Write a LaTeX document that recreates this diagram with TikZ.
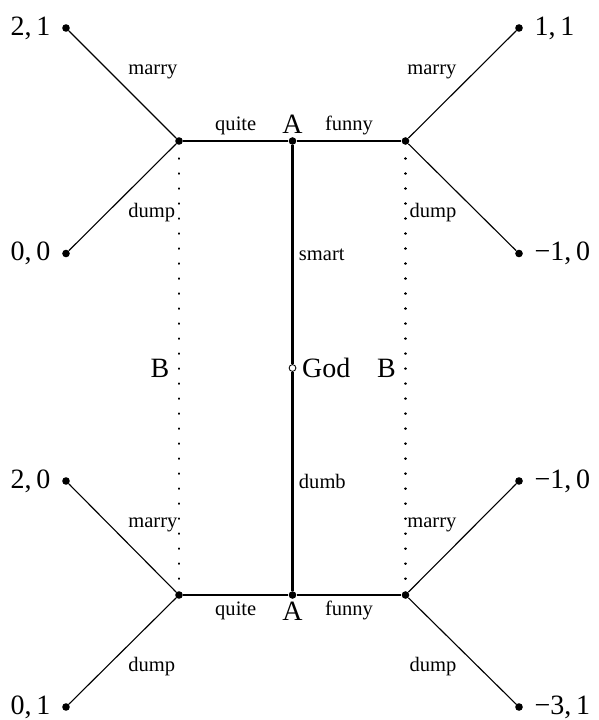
\documentclass[tikz,border=0pt]{standalone}
\usepackage{fontspec}
\setmainfont{Liberation Serif}
\usetikzlibrary{positioning}
\tikzset{
  dec/.style={circle, fill=black, inner sep=0pt, minimum size=0.19cm},
  chance/.style={circle, draw=black, fill=white, line width=0.6pt,
                 inner sep=0pt, minimum size=0.17cm},
  pay/.style={inner sep=2pt, font=\fontsize{19.9}{24}\selectfont},
  pl/.style={inner sep=2pt, font=\fontsize{19.9}{24}\selectfont},
  lbl/.style={inner sep=3.8pt, font=\fontsize{14.6}{17}\selectfont},
  move/.style={line width=1.6pt},
  leaf/.style={line width=0.8pt},
  infoset/.style={line width=1.7pt, line cap=round,
                  dash pattern=on 0.2pt off 10.47pt, dash phase=1.2pt},
}

\begin{document}
\begin{tikzpicture}[x=0.025cm, y=-0.025cm, node distance=6pt]
\useasboundingbox (0,0) rectangle (598,720);
% nature
\node[chance] (god) at (292.5,368) {};
\node[pl, right=2pt of god] (godl) {God};
% player A
\node[dec] (aT) at (292.5,141) {};
\node[dec] (aB) at (292.5,595) {};
\node[pl, above=0pt of aT] (aTl) {A};
\node[pl, below=0pt of aB] (aBl) {A};
% player B
\node[dec] (bTL) at (179,141) {};
\node[dec] (bTR) at (405.5,141) {};
\node[dec] (bBL) at (179,595) {};
\node[dec] (bBR) at (405.5,595) {};
% terminal nodes
\node[dec] (t1) at (66,28) {};
\node[dec] (t2) at (66,253.5) {};
\node[dec] (t3) at (519,28) {};
\node[dec] (t4) at (519,253.5) {};
\node[dec] (t5) at (66,481) {};
\node[dec] (t6) at (66,707) {};
\node[dec] (t7) at (519,481) {};
\node[dec] (t8) at (519,707) {};
\node[pay, left=of t1] (p1) {2,\,1};
\node[pay, left=of t2] (p2) {0,\,0};
\node[pay, right=of t3] (p3) {1,\,1};
\node[pay, right=of t4] (p4) {−1,\,0};
\node[pay, left=of t5] (p5) {2,\,0};
\node[pay, left=of t6] (p6) {0,\,1};
\node[pay, right=of t7] (p7) {−1,\,0};
\node[pay, right=of t8] (p8) {−3,\,1};

\draw[move] (god) -- node[lbl, right]{smart} (aT);
\draw[move] (god) -- node[lbl, right]{dumb} (aB);
\draw[move] (aT) -- node[lbl, above]{quite} (bTL);
\draw[move] (aT) -- node[lbl, above]{funny} (bTR);
\draw[move] (aB) -- node[lbl, below]{quite} (bBL);
\draw[move] (aB) -- node[lbl, below]{funny} (bBR);

\draw[leaf] (bTL) -- node[lbl, above right]{marry} (t1);
\draw[leaf] (bTL) -- node[lbl, below right]{dump} (t2);
\draw[leaf] (bTR) -- node[lbl, above left]{marry} (t3);
\draw[leaf] (bTR) -- node[lbl, below left]{dump} (t4);
\draw[leaf] (bBL) -- node[lbl, above right]{marry} (t5);
\draw[leaf] (bBL) -- node[lbl, below right]{dump} (t6);
\draw[leaf] (bBR) -- node[lbl, above left]{marry} (t7);
\draw[leaf] (bBR) -- node[lbl, below left]{dump} (t8);

\draw[infoset] (bTL) -- node[pl, left=4pt]{B} (bBL);
\draw[infoset] (bTR) -- node[pl, left=4pt]{B} (bBR);
\end{tikzpicture}
\end{document}
